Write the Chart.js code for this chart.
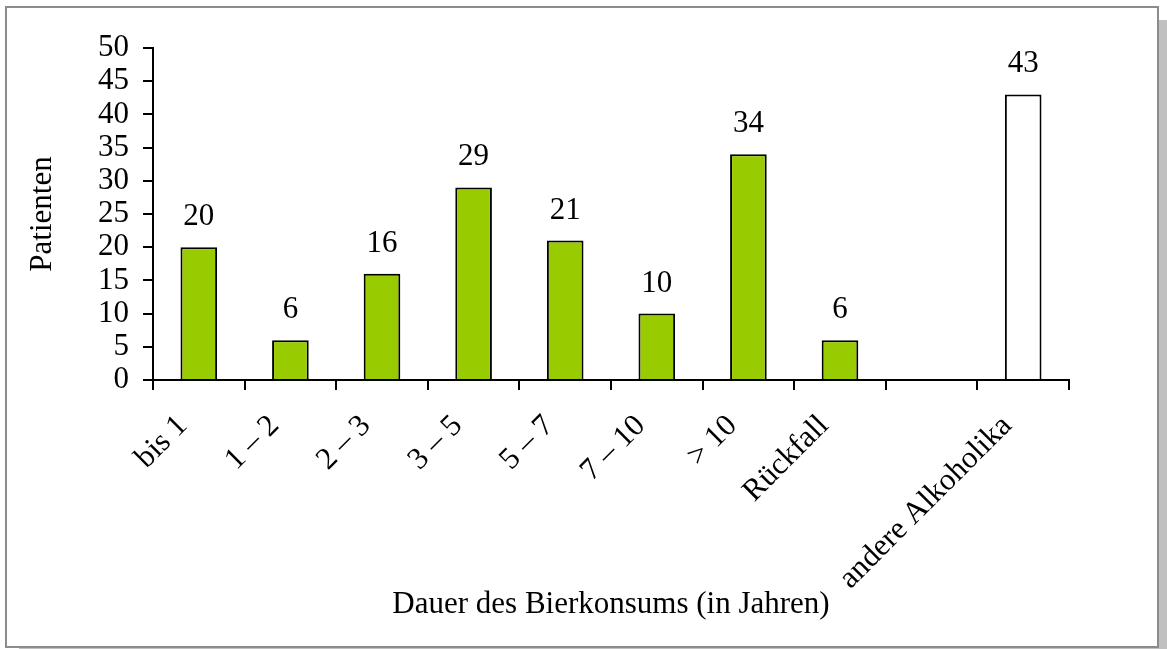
<!DOCTYPE html>
<html>
<head>
<meta charset="utf-8">
<script src="https://cdn.jsdelivr.net/npm/chart.js@4"></script>
<style>
  body { margin: 0; background: #fff; }
  #frame {
    position: absolute; left: 5px; top: 6px; width: 1150px; height: 638px;
    border: 2px solid #8c8c8c; box-shadow: 14px 14px 0 #c0c0c0; background: #fff;
  }
  #wrap { position: absolute; left: 0; top: 0; width: 1167px; height: 649px; }
</style>
</head>
<body>
<div id="frame"></div>
<div id="wrap"><canvas id="chartJSContainer"></canvas></div>

<script>
  var kategorien = ["bis 1", "1 \u2013 2", "2 \u2013 3", "3 \u2013 5", "5 \u2013 7", "7 \u2013 10", "> 10", "R\u00fcckfall", "", "andere Alkoholika"]
  var patienten = [20, 6, 16, 29, 21, 10, 34, 6, null, 43]
  var farben = ['#99cc00', '#99cc00', '#99cc00', '#99cc00', '#99cc00', '#99cc00', '#99cc00', '#99cc00', '#99cc00', '#ffffff']
  var yTicks = [0, 5, 10, 15, 20, 25, 30, 35, 40, 45, 50]

  var schrift = { family: "'Liberation Serif', 'Times New Roman', serif", size: 31 }

  // Zahlen ueber den Balken
  var werteLabel = {
    id: 'werteLabel',
    afterDatasetsDraw: function(chart) {
      var ctx = chart.ctx
      var meta = chart.getDatasetMeta(0)
      ctx.save()
      ctx.font = schrift.size + 'px ' + schrift.family
      ctx.fillStyle = '#000'
      ctx.textAlign = 'center'
      ctx.textBaseline = 'alphabetic'
      meta.data.forEach(function(bar, i) {
        if (patienten[i] == null) return
        ctx.fillText(String(patienten[i]), bar.x, bar.y - 22)
      })
      ctx.restore()
    }
  }

  var options = {
    type: 'bar',
    data: {
      labels: kategorien,
      datasets: [{
        data: patienten,
        backgroundColor: farben,
        borderColor: '#000',
        borderWidth: 2,
        barPercentage: 0.4,
        categoryPercentage: 1
      }]
    },
    options: {
      responsive: false,
      animation: false,
      layout: { padding: { top: 48, right: 98, left: 0, bottom: 0 } },
      plugins: {
        legend: { display: false },
        tooltip: { enabled: false }
      },
      scales: {
        x: {
          offset: true,
          grid: { display: true, offset: true, drawOnChartArea: false, drawTicks: true, tickLength: 10, color: '#000', lineWidth: 2 },
          border: { display: true, color: '#000', width: 2 },
          ticks: { color: '#000', font: schrift, maxRotation: 45, minRotation: 45, padding: 18, labelOffset: -16, autoSkip: false },
          title: { display: true, text: 'Dauer des Bierkonsums (in Jahren)', color: '#000', font: schrift, padding: { top: 0, bottom: 26 } },
          afterFit: function(scale) { scale.height = 269 }
        },
        y: {
          min: 0,
          max: 50,
          afterBuildTicks: function(scale) { scale.ticks = yTicks.map(function(v) { return { value: v } }) },
          grid: { display: true, drawOnChartArea: false, drawTicks: true, tickLength: 10, color: '#000', lineWidth: 2 },
          border: { display: true, color: '#000', width: 2 },
          ticks: { color: '#000', font: schrift, padding: 14, autoSkip: false },
          title: { display: true, text: 'Patienten', color: '#000', font: schrift, padding: { top: 24, bottom: 0 } },
          afterFit: function(scale) { scale.width = 153 }
        }
      }
    },
    plugins: [werteLabel]
  }

  var cv = document.getElementById('chartJSContainer')
  cv.width = 1167
  cv.height = 649
  var ctx = cv.getContext('2d')
  new Chart(ctx, options)
</script>
</body>
</html>
